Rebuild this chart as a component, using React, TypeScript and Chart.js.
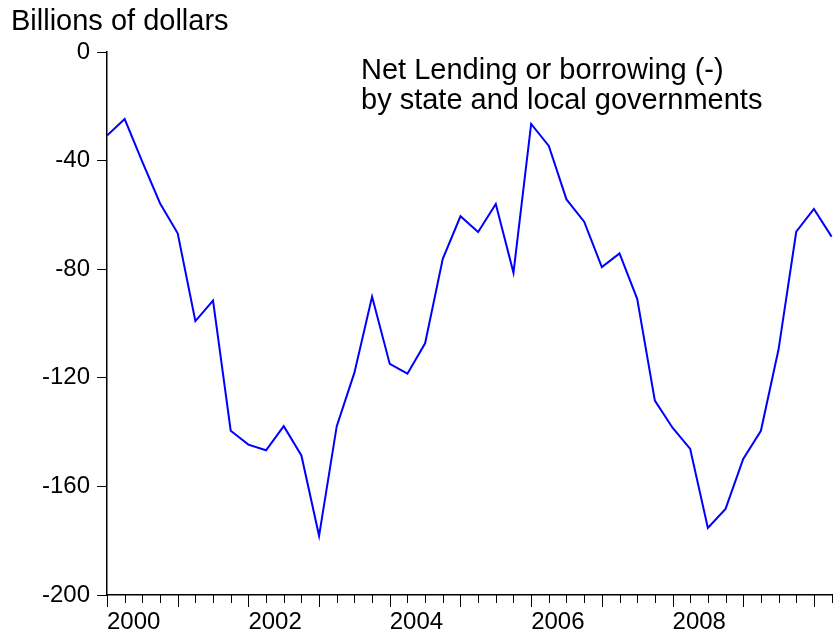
import React, { useEffect, useRef } from 'react';
import { Chart, registerables } from 'chart.js';

Chart.register(...registerables);

// Quarterly periods (year + quarter index)
const periods: string[] = [
  '2000Q1', '2000Q2', '2000Q3', '2000Q4',
  '2001Q1', '2001Q2', '2001Q3', '2001Q4',
  '2002Q1', '2002Q2', '2002Q3', '2002Q4',
  '2003Q1', '2003Q2', '2003Q3', '2003Q4',
  '2004Q1', '2004Q2', '2004Q3', '2004Q4',
  '2005Q1', '2005Q2', '2005Q3', '2005Q4',
  '2006Q1', '2006Q2', '2006Q3', '2006Q4',
  '2007Q1', '2007Q2', '2007Q3', '2007Q4',
  '2008Q1', '2008Q2', '2008Q3', '2008Q4',
  '2009Q1', '2009Q2', '2009Q3', '2009Q4',
  '2010Q1', '2010Q2',
];

// Net lending or borrowing (-), billions of dollars
const netLending: number[] = [
  -30.8, -24.7, -40.5, -55.7,
  -66.8, -99.1, -91.6, -139.5,
  -144.6, -146.7, -137.8, -148.6,
  -178.2, -137.8, -118.1, -90.1,
  -114.9, -118.5, -107.3, -76.2,
  -60.5, -66.3, -56.0, -81.3,
  -26.5, -34.6, -54.3, -62.5,
  -79.2, -74.2, -90.9, -128.4,
  -138.4, -146.2, -175.3, -168.3,
  -149.9, -139.5, -109.5, -66.2,
  -57.8, -68.0,
];

// Quarter tick positions along the time axis
const quarterTicks: string[] = [
  '2000Q1', '2000Q2', '2000Q3', '2000Q4', '2001Q1', '2001Q2', '2001Q3', '2001Q4',
  '2002Q1', '2002Q2', '2002Q3', '2002Q4', '2003Q1', '2003Q2', '2003Q3', '2003Q4',
  '2004Q1', '2004Q2', '2004Q3', '2004Q4', '2005Q1', '2005Q2', '2005Q3', '2005Q4',
  '2006Q1', '2006Q2', '2006Q3', '2006Q4', '2007Q1', '2007Q2', '2007Q3', '2007Q4',
  '2008Q1', '2008Q2', '2008Q3', '2008Q4', '2009Q1', '2009Q2', '2009Q3', '2009Q4',
  '2010Q1', '2010Q2',
];
const xLabelYears: number[] = [2000, 2002, 2004, 2006, 2008];
const xMin = 2000;
const xMax = 2010.27;

const yTicks: number[] = [0, -40, -80, -120, -160, -200];

const yAxisTitle = 'Billions of dollars';
const chartTitleLines: string[] = ['Net Lending or borrowing (-)', 'by state and local governments'];

const FONT = '"Liberation Sans", Arial, Helvetica, sans-serif';

function periodToNumber(p: string): number {
  const year = parseInt(p.slice(0, 4), 10);
  const q = parseInt(p.slice(5), 10);
  return year + (q - 1) / 4;
}

const annotationsPlugin = {
  id: 'eviewsDecor',
  afterDraw(chart: any) {
    const ctx = chart.ctx;
    const xs = chart.scales.x;
    ctx.save();
    // quarter / year tick marks below x axis
    ctx.strokeStyle = '#000';
    ctx.lineWidth = 1;
    for (const t of xs.ticks) {
      const px = Math.round(xs.getPixelForValue(t.value)) + 0.5;
      const isYear = Math.abs(t.value - Math.round(t.value)) < 1e-6;
      ctx.beginPath();
      ctx.moveTo(px, xs.top);
      ctx.lineTo(px, xs.top + (isYear ? 12 : 8));
      ctx.stroke();
    }
    // texts
    ctx.fillStyle = '#000';
    ctx.textBaseline = 'alphabetic';
    ctx.textAlign = 'left';
    ctx.font = `29px ${FONT}`;
    ctx.fillText(yAxisTitle, 11, 30);
    ctx.fillText(chartTitleLines[0], 361, 79);
    ctx.fillText(chartTitleLines[1], 361, 109);
    ctx.restore();
  },
};

export default function App() {
  const canvasRef = useRef<HTMLCanvasElement | null>(null);

  useEffect(() => {
    const canvas = canvasRef.current;
    if (!canvas) return;
    const data = periods.map((p, i) => ({ x: periodToNumber(p), y: netLending[i] }));
    const chart = new Chart(canvas, {
      type: 'line',
      data: {
        datasets: [
          {
            label: 'Net lending',
            data,
            borderColor: '#0000ff',
            borderWidth: 2,
            pointRadius: 0,
            tension: 0,
            fill: false,
          },
        ],
      },
      options: {
        responsive: false,
        animation: false,
        devicePixelRatio: 1,
        layout: { padding: { top: 52, left: 0, right: 0, bottom: 0 } },
        plugins: {
          legend: { display: false },
          tooltip: { enabled: false },
          title: { display: false },
        },
        scales: {
          x: {
            type: 'linear',
            min: xMin,
            max: xMax,
            afterBuildTicks: (scale: any) => {
              scale.ticks = quarterTicks.map((q) => ({ value: periodToNumber(q) }));
            },
            afterFit: (scale: any) => {
              scale.height = 45;
              scale.paddingLeft = 0;
              scale.paddingRight = 0;
            },
            grid: { display: false, drawTicks: false },
            border: { display: true, color: '#000', width: 1.5 },
            ticks: {
              autoSkip: false,
              maxRotation: 0,
              minRotation: 0,
              align: 'start',
              padding: 13,
              color: '#000',
              font: { family: FONT, size: 24 },
              callback: (v: any) => {
                const n = Number(v);
                return xLabelYears.some((y) => Math.abs(y - n) < 1e-6) ? String(Math.round(n)) : '';
              },
            },
          },
          y: {
            type: 'linear',
            min: -200,
            max: 0,
            afterBuildTicks: (scale: any) => {
              scale.ticks = yTicks.map((v) => ({ value: v }));
            },
            afterFit: (scale: any) => {
              scale.width = 107;
            },
            grid: {
              display: true,
              drawOnChartArea: false,
              drawTicks: true,
              tickLength: 10,
              tickColor: '#000',
              tickWidth: 1,
            },
            border: { display: true, color: '#000', width: 1.5 },
            ticks: {
              padding: 7,
              color: '#000',
              font: { family: FONT, size: 24 },
              callback: (v: any) => String(v),
            },
          },
        },
      },
      plugins: [annotationsPlugin],
    });
    return () => chart.destroy();
  }, []);

  return (
    <div style={{ position: 'absolute', left: 0, top: 0, width: 833, height: 640, background: '#fff' }}>
      <canvas ref={canvasRef} width={833} height={640} />
    </div>
  );
}
